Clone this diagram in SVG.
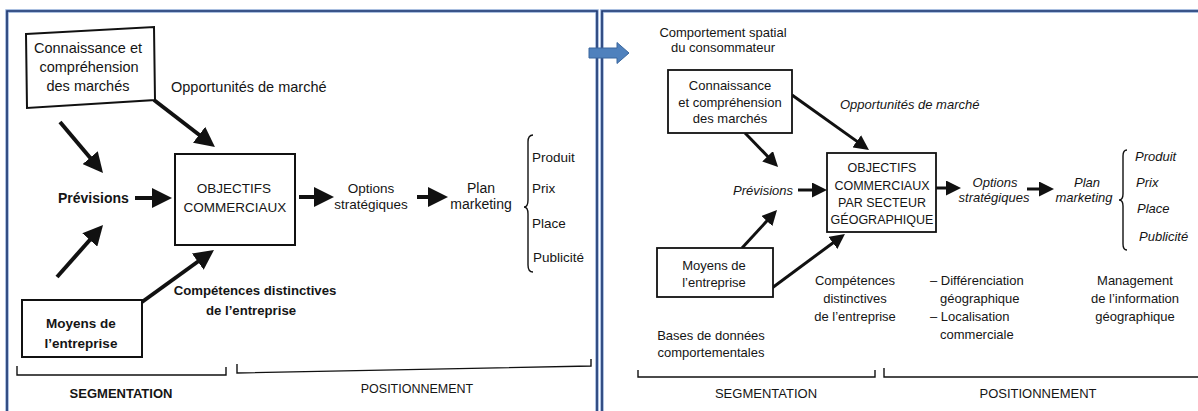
<svg xmlns="http://www.w3.org/2000/svg" width="1198" height="411" viewBox="0 0 1198 411">
<defs>
<style>
text{font-family:"Liberation Sans",Arial,sans-serif;fill:#151515}
.l{font-size:14.5px}
.lb{font-size:14px;font-weight:bold}
.r{font-size:13px}
.ri{font-size:13px;font-style:italic}
.m{text-anchor:middle}
.box{fill:#fff;stroke:#111}
.cl{stroke:#111;stroke-width:4;fill:none}
.cr{stroke:#111;stroke-width:3;fill:none}
.br{stroke:#111;stroke-width:1.4;fill:none}
.fr1{stroke:#8eaad6;stroke-width:3.4;fill:none}
.fr2{stroke:#1f3870;stroke-width:1.6;fill:none}
</style>
<marker id="hL" markerUnits="userSpaceOnUse" markerWidth="20" markerHeight="20" viewBox="0 0 20 20" refX="2" refY="10" orient="auto"><path d="M0,0 L20,10 L0,20 z" fill="#111"/></marker>
<marker id="hR" markerUnits="userSpaceOnUse" markerWidth="15" markerHeight="15" viewBox="0 0 15 15" refX="2" refY="7.5" orient="auto"><path d="M0,0 L15,7.5 L0,15 z" fill="#111"/></marker>
</defs>
<rect width="1198" height="411" fill="#fff"/>

<g id="frames">
<path class="fr1" d="M7,420 V11 H597 V420"/>
<path class="fr2" d="M7,420 V11 H597 V420"/>
<path class="fr1" d="M602,420 V11 H1205"/>
<path class="fr2" d="M602,420 V11 H1205"/>
</g>

<g id="connectors">
<path class="cl" marker-end="url(#hL)" d="M154,100 L200.7,136"/>
<path class="cl" marker-end="url(#hL)" d="M60,122 L91.4,159.2"/>
<path class="cl" marker-end="url(#hL)" d="M135,198 L154,198"/>
<path class="cl" marker-end="url(#hL)" d="M57,277 L91.1,238.5"/>
<path class="cl" marker-end="url(#hL)" d="M142,302 L199.4,260.5"/>
<path class="cl" marker-end="url(#hL)" d="M299,197 L316,197"/>
<path class="cl" marker-end="url(#hL)" d="M417,197 L430,197"/>
<path class="cr" marker-end="url(#hR)" d="M745,133 L769,157.7"/>
<path class="cr" marker-end="url(#hR)" d="M792,95 L858.4,142.4"/>
<path class="cr" marker-end="url(#hR)" d="M798,190 L814,190"/>
<path class="cr" marker-end="url(#hR)" d="M742,248 L768.2,219.6"/>
<path class="cr" marker-end="url(#hR)" d="M772,288 L834.5,241.7"/>
<path class="cr" marker-end="url(#hR)" d="M936,188 L948,188"/>
<path class="cr" marker-end="url(#hR)" d="M1027,189 L1041,189"/>
</g>

<!-- Left panel -->
<g id="L-connaissance">
<polygon class="box" stroke-width="2" points="26,34 154,27 155,100 27,108"/>
<text class="l m" x="88" y="53">Connaissance et</text>
<text class="l m" x="89" y="72">compréhension</text>
<text class="l m" x="88" y="91">des marchés</text>
</g>
<g id="L-opportunites"><text class="l" x="171" y="92">Opportunités de marché</text></g>
<g id="L-previsions"><text class="lb" x="58" y="203">Prévisions</text></g>
<g id="L-objectifs">
<rect class="box" stroke-width="2" x="175" y="154" width="120" height="91"/>
<text class="m" x="234" y="193" style="font-size:13.5px">OBJECTIFS</text>
<text class="m" x="235" y="212" style="font-size:13.5px">COMMERCIAUX</text>
</g>
<g id="L-options">
<text class="m" x="371" y="193" style="font-size:13.5px">Options</text>
<text class="m" x="371" y="209" style="font-size:13.5px">stratégiques</text>
</g>
<g id="L-plan">
<text class="m" x="481" y="193" style="font-size:14px">Plan</text>
<text class="m" x="481" y="209" style="font-size:14px">marketing</text>
</g>
<g id="L-mix">
<path class="br" d="M533,135 Q528,135 528,142 L528,200 Q528,207 524,207 Q528,207 528,214 L528,265 Q528,272 533,272"/>
<text x="532" y="162" style="font-size:13.5px">Produit</text>
<text x="532" y="193" style="font-size:13.5px">Prix</text>
<text x="532" y="228" style="font-size:13.5px">Place</text>
<text x="533" y="262" style="font-size:13.5px">Publicité</text>
</g>
<g id="L-moyens">
<rect class="box" stroke-width="2" x="22" y="300" width="120" height="57"/>
<text class="m" x="81" y="328" style="font-size:13.5px;font-weight:bold">Moyens de</text>
<text class="m" x="81" y="348" style="font-size:13.5px;font-weight:bold">l’entreprise</text>
</g>
<g id="L-competences">
<text class="m" x="255" y="295" style="font-size:13.2px;font-weight:bold">Compétences distinctives</text>
<text class="m" x="251" y="315" style="font-size:13.2px;font-weight:bold">de l’entreprise</text>
</g>
<g id="L-segmentation">
<path class="br" d="M17,366 V375 H226 V367"/>
<text class="m" x="121" y="398" style="font-size:13px;font-weight:bold">SEGMENTATION</text>
</g>
<g id="L-positionnement">
<path class="br" d="M237,364 V373 L591,366 V359"/>
<text class="m" x="417" y="393" style="font-size:12.5px">POSITIONNEMENT</text>
</g>

<!-- Right panel -->
<g id="R-comportement">
<text class="r m" x="723" y="37">Comportement spatial</text>
<text class="r m" x="723" y="52">du consommateur</text>
</g>
<g id="R-connaissance">
<rect class="box" stroke-width="1.8" x="668" y="70" width="124" height="63"/>
<text class="r m" x="730" y="90">Connaissance</text>
<text class="r m" x="730" y="107">et compréhension</text>
<text class="r m" x="730" y="123">des marchés</text>
</g>
<g id="R-opportunites"><text class="ri" x="840" y="109">Opportunités de marché</text></g>
<g id="R-previsions"><text class="ri" x="793" y="195" text-anchor="end">Prévisions</text></g>
<g id="R-objectifs">
<rect class="box" stroke-width="1.8" x="827" y="153" width="109" height="79"/>
<text class="m" x="882" y="172" style="font-size:12.5px">OBJECTIFS</text>
<text class="m" x="882" y="190" style="font-size:12.5px">COMMERCIAUX</text>
<text class="m" x="882" y="207" style="font-size:12.5px">PAR SECTEUR</text>
<text class="m" x="882" y="224" style="font-size:12.5px">GÉOGRAPHIQUE</text>
</g>
<g id="R-options">
<text class="ri m" x="995" y="187">Options</text>
<text class="ri m" x="994" y="202">stratégiques</text>
</g>
<g id="R-plan">
<text class="ri m" x="1087" y="187">Plan</text>
<text class="ri m" x="1084" y="202">marketing</text>
</g>
<g id="R-mix">
<path class="br" d="M1127,150 Q1123,150 1123,156 L1123,194 Q1123,200 1119,200 Q1123,200 1123,206 L1123,244 Q1123,250 1127,250"/>
<text class="ri" x="1135" y="161">Produit</text>
<text class="ri" x="1136" y="187">Prix</text>
<text class="ri" x="1137" y="213">Place</text>
<text class="ri" x="1139" y="241">Publicité</text>
</g>
<g id="R-moyens">
<rect class="box" stroke-width="1.8" x="657" y="248" width="116" height="49"/>
<text class="r m" x="714" y="270">Moyens de</text>
<text class="r m" x="714" y="287">l’entreprise</text>
</g>
<g id="R-competences">
<text class="r m" x="855" y="285">Compétences</text>
<text class="r m" x="855" y="303">distinctives</text>
<text class="r m" x="855" y="321">de l’entreprise</text>
</g>
<g id="R-bases">
<text class="r m" x="711" y="340">Bases de données</text>
<text class="r m" x="711" y="357">comportementales</text>
</g>
<g id="R-differenciation">
<text class="r" x="930" y="285">– Différenciation</text>
<text class="r" x="940" y="303">géographique</text>
<text class="r" x="930" y="321">– Localisation</text>
<text class="r" x="940" y="339">commerciale</text>
</g>
<g id="R-management">
<text class="r m" x="1135" y="285">Management</text>
<text class="r m" x="1135" y="303">de l’information</text>
<text class="r m" x="1135" y="321">géographique</text>
</g>
<g id="R-segmentation">
<path class="br" d="M638,370 V377 H875 V370"/>
<text class="r m" x="766" y="398">SEGMENTATION</text>
</g>
<g id="R-positionnement">
<path class="br" d="M884,368 V377 H1198"/>
<text class="r m" x="1038" y="398">POSITIONNEMENT</text>
</g>

<g id="transition-arrow">
<path d="M589,48 H617 V42.5 L629,53 L617,63.5 V58 H589 Z" fill="#4f81bd" stroke="#3a679e" stroke-width="1"/>
</g>
</svg>
